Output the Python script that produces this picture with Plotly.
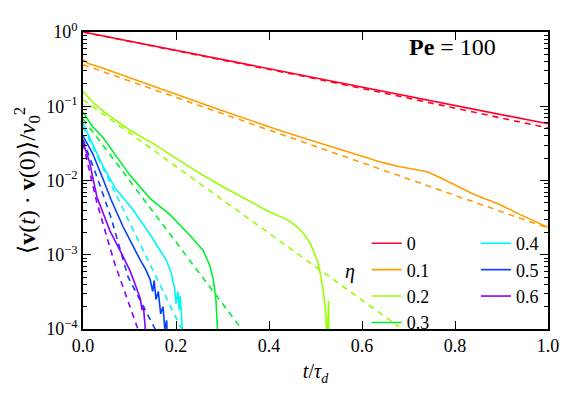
import plotly.graph_objects as go

# eta values and colours (gist_rainbow-like)
etas = ["0", "0.1", "0.2", "0.3", "0.4", "0.5", "0.6"]
colors = ["#ff0029", "#ff9e00", "#98ff00", "#00f030", "#00f7f7", "#0040ff", "#8a00ff"]

# simulation curves (solid)
t_sim = {
    "0":   [0.0, 0.25, 0.5, 0.75, 1.0],
    "0.1": [0.0, 0.01, 0.04, 0.1, 0.2, 0.3, 0.43, 0.538, 0.596, 0.645, 0.682, 0.74,
            0.77, 0.8, 0.839, 0.897, 0.94, 1.0],
    "0.2": [0.0, 0.02, 0.05, 0.1, 0.15, 0.2, 0.25, 0.3, 0.35, 0.4, 0.44, 0.46, 0.475,
            0.49, 0.505, 0.512, 0.518, 0.522, 0.525, 0.528, 0.529],
    "0.3": [0.0, 0.02, 0.043, 0.071, 0.1, 0.144, 0.187, 0.23, 0.258, 0.273, 0.28,
            0.286, 0.29],
    "0.4": [0.0, 0.021, 0.043, 0.071, 0.09, 0.108, 0.125, 0.144, 0.16, 0.179, 0.19,
            0.197, 0.2, 0.204, 0.207, 0.209, 0.212, 0.215],
    "0.5": [0.0, 0.021, 0.043, 0.06, 0.086, 0.105, 0.123, 0.135, 0.144, 0.15, 0.153,
            0.157, 0.162, 0.167, 0.172, 0.176, 0.18, 0.182],
    "0.6": [0.0, 0.014, 0.03, 0.058, 0.086, 0.1, 0.108, 0.115, 0.123, 0.127, 0.13,
            0.134, 0.137],
}
c_sim = {
    "0":   [1.0, 0.491, 0.241, 0.118, 0.058],
    "0.1": [0.427, 0.38, 0.331, 0.245, 0.145, 0.087, 0.0457, 0.028, 0.0214, 0.0174,
            0.0153, 0.0131, 0.0108, 0.0088, 0.0066, 0.0047, 0.00347, 0.00234],
    "0.2": [0.158, 0.115, 0.0794, 0.0479, 0.0316, 0.02, 0.0126, 0.0083, 0.0056,
            0.0038, 0.00295, 0.0024, 0.0019, 0.00138, 0.00079, 0.0005, 0.00028,
            0.000158, 0.00006, 0.00024, 0.00005],
    "0.3": [0.083, 0.0537, 0.038, 0.0219, 0.012, 0.00575, 0.00347, 0.00182, 0.00115,
            0.00071, 0.00047, 0.00024, 0.00008],
    "0.4": [0.0589, 0.0309, 0.0155, 0.0076, 0.0054, 0.004, 0.0028, 0.0019, 0.0013,
            0.00085, 0.00056, 0.00035, 0.00022, 0.00032, 0.00018, 0.00028, 0.00015,
            0.00005],
    "0.5": [0.0398, 0.0229, 0.0105, 0.0056, 0.0024, 0.0014, 0.00085, 0.00063, 0.00047,
            0.00032, 0.00045, 0.00025, 0.00032, 0.00016, 0.0002, 0.0001, 0.00013,
            0.00005],
    "0.6": [0.033, 0.0178, 0.006, 0.0021, 0.00095, 0.00063, 0.00047, 0.00035, 0.00026,
            0.00018, 0.0002, 0.0001, 0.00005],
}

# theory curves (dashed)
t_th = {
    "0":   [0.0, 0.5, 0.75, 1.0],
    "0.1": [0.0, 0.25, 0.5, 0.75, 1.0],
    "0.2": [0.0, 0.68],
    "0.3": [0.0, 0.34],
    "0.4": [0.0, 0.212],
    "0.5": [0.0, 0.03, 0.06, 0.097, 0.155],
    "0.6": [0.0, 0.03, 0.067, 0.11, 0.118],
}
c_th = {
    "0":   [1.0, 0.235, 0.11, 0.051],
    "0.1": [0.363, 0.102, 0.0288, 0.00813, 0.00229],
    "0.2": [0.123, 0.000107],
    "0.3": [0.0676, 0.000102],
    "0.4": [0.0525, 0.0001],
    "0.5": [0.0355, 0.0112, 0.0032, 0.0005, 0.0001],
    "0.6": [0.0316, 0.005, 0.0008, 0.00014, 0.0001],
}

# minor log ticks 2..9 per decade
minor_vals = [m * 10.0 ** e for e in range(-4, 0) for m in range(2, 10)]

FONT = "Liberation Serif, DejaVu Serif, serif"

fig = go.Figure()
for i, (eta, col) in enumerate(zip(etas, colors)):
    grp = "legend" if i < 4 else "legend2"
    fig.add_trace(go.Scatter(x=t_th[eta], y=c_th[eta], mode="lines",
                             line=dict(color=col, width=1.6, dash="6px,5px"),
                             showlegend=False, hoverinfo="skip"))
    fig.add_trace(go.Scatter(x=t_sim[eta], y=c_sim[eta], mode="lines",
                             line=dict(color=col, width=1.6), name=eta, legend=grp))

# page has an 8px body margin; extra right margin leaves room for the 2nd legend
fig.update_layout(
    width=600, height=385,
    margin=dict(l=75, r=60, t=12, b=64),
    paper_bgcolor="white", plot_bgcolor="white",
    font=dict(family=FONT, size=18, color="black"),
    legend=dict(x=0.61, y=0.35, xanchor="left", yanchor="top",
                bgcolor="rgba(0,0,0,0)", tracegroupgap=0, itemwidth=30,
                font=dict(family=FONT, size=18)),
    legend2=dict(x=0.845, y=0.35, xanchor="left", yanchor="top",
                 bgcolor="rgba(0,0,0,0)", tracegroupgap=0, itemwidth=30,
                 font=dict(family=FONT, size=18)),
    annotations=[
        dict(x=0.794, y=0.948, xref="paper", yref="paper", xanchor="center",
             yanchor="middle", showarrow=False, text="<b>Pe</b> = 100",
             font=dict(family=FONT, size=24)),
        dict(x=0.575, y=0.148, xref="paper", yref="paper", showarrow=False,
             text="<i>η</i>", font=dict(family=FONT, size=20)),
    ],
)

fig.update_xaxes(
    range=[0, 1], dtick=0.2, tickformat=".1f",
    tickfont=dict(family=FONT, size=18),
    showline=True, linecolor="black", linewidth=1.5, mirror="ticks",
    ticks="inside", ticklen=8, tickwidth=1, tickcolor="black",
    showgrid=False, zeroline=False,
    title=dict(text="<i>t</i>/<i>τ<sub>d</sub></i>", standoff=9,
               font=dict(family=FONT, size=20)),
)
fig.update_yaxes(
    type="log", range=[-4, 0],
    tickvals=[1e-4, 1e-3, 1e-2, 1e-1, 1],
    ticktext=["10<sup>−4</sup>", "10<sup>−3</sup>", "10<sup>−2</sup>",
              "10<sup>−1</sup>", "10<sup>0</sup>"],
    tickfont=dict(family=FONT, size=18),
    showline=True, linecolor="black", linewidth=1.5, mirror="ticks",
    ticks="inside", ticklen=8, tickwidth=1, tickcolor="black",
    minor=dict(tickmode="array", tickvals=minor_vals, ticks="inside", ticklen=4,
               tickcolor="black", showgrid=False),
    showgrid=False, zeroline=False,
    title=dict(text="⟨<b>v</b>(<i>t</i>) · <b>v</b>(0)⟩/<i>v</i><sub>0</sub><sup>2</sup>",
               standoff=4, font=dict(family=FONT, size=24)),
)

fig.write_html("out.html")
